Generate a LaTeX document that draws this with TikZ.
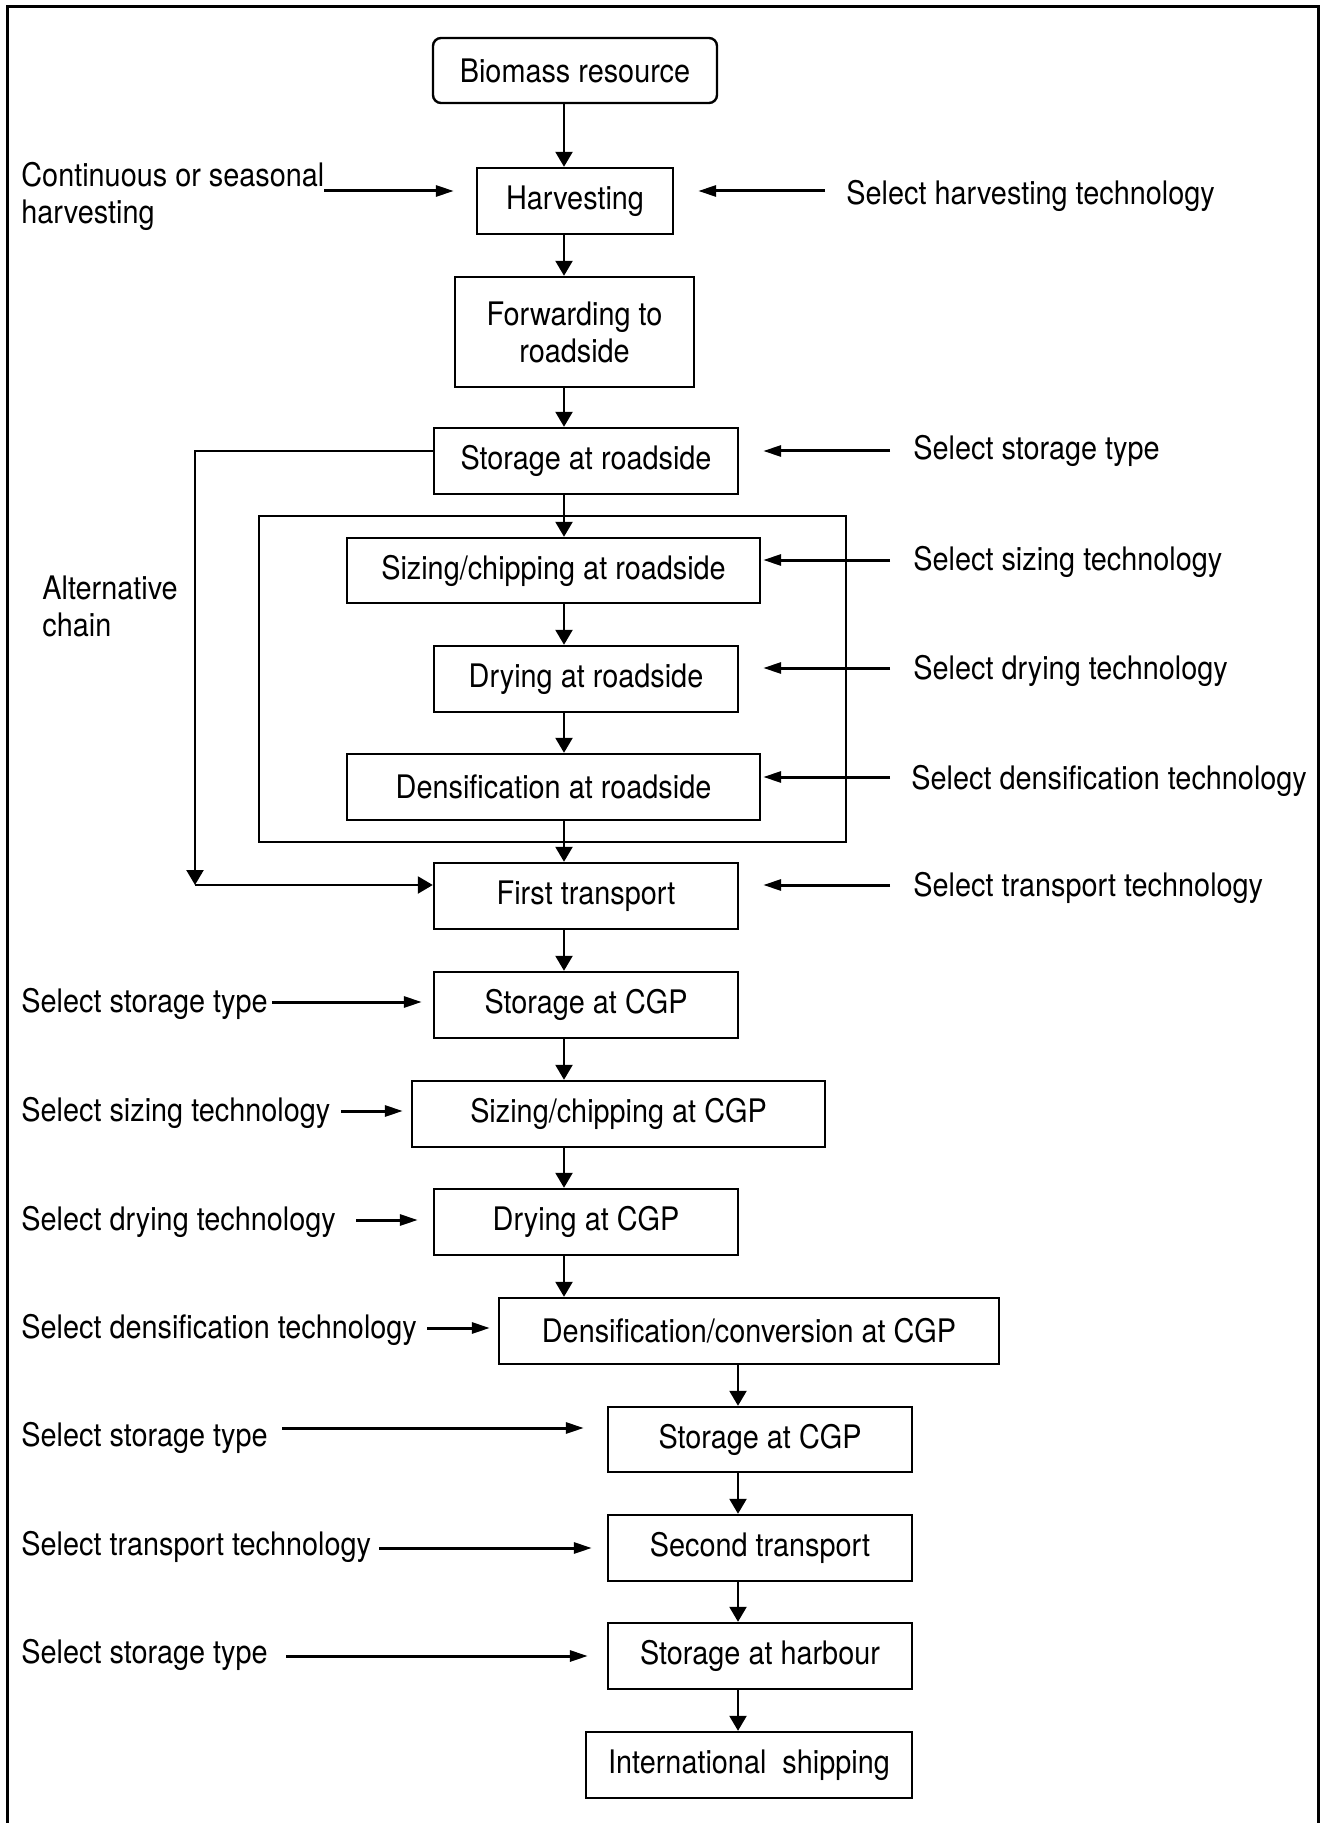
\documentclass[tikz,border=0pt]{standalone}
\usepackage{fontspec}
\setmainfont{TeX Gyre Heros}[FakeStretch=0.89]
\usetikzlibrary{arrows.meta,calc}
\begin{document}
\begin{tikzpicture}[x=0.5pt,y=-0.5pt,
  every node/.style={font=\fontsize{16.2pt}{18.5pt}\selectfont, inner sep=0pt},
  box/.style={draw, line width=1.2pt, minimum height=33pt},
  flow/.style={line width=1.15pt, -{Triangle[length=7.5pt,width=8.5pt]}},
  inarrow/.style={line width=1.5pt, -{Triangle[length=9pt,width=5.5pt]}},
  lab/.style={anchor=base west},
  mlab/.style={anchor=west, align=left},
]
\useasboundingbox (0,0) rectangle (1320,1823);
% frame
\draw[line width=1.5pt] (7.5,1823) -- (7.5,6.5) -- (1318.5,6.5) -- (1318.5,1823);

% container
\node[draw, line width=1.2pt, minimum width=293.5pt, minimum height=163pt] (cont) at (552.5,679) {};

% boxes
\node[box, rounded corners=4pt, minimum width=142pt, minimum height=32.5pt] (bio) at (575,70.5) {Biomass resource};
\node[box, minimum width=98pt, minimum height=33pt] (harv) at (575,201) {Harvesting};
\node[box, minimum width=119.5pt, minimum height=55pt, align=center] (fwd) at (574.5,332) {Forwarding to\\roadside};
\node[box, minimum width=152pt] (stroad) at (586,461) {Storage at roadside};
\node[box, minimum width=206.5pt, minimum height=32.5pt] (sizroad) at (553.5,570.5) {Sizing/chipping at roadside};
\node[box, minimum width=152pt] (dryroad) at (586,679) {Drying at roadside};
\node[box, minimum width=206.5pt] (denroad) at (553.5,787) {Densification at roadside};
\node[box, minimum width=152pt] (first) at (586,896) {First transport};
\node[box, minimum width=152pt] (stcgp) at (586,1005) {Storage at CGP};
\node[box, minimum width=206.5pt] (sizcgp) at (618.5,1114) {Sizing/chipping at CGP};
\node[box, minimum width=152pt] (drycgp) at (586,1222) {Drying at CGP};
\node[box, minimum width=250pt] (dencgp) at (749,1331) {Densification/conversion at CGP};
\node[box, minimum width=152pt, minimum height=32.5pt] (stcgp2) at (760,1439.5) {Storage at CGP};
\node[box, minimum width=152pt] (second) at (760,1548) {Second transport};
\node[box, minimum width=152pt] (harbour) at (760,1656) {Storage at harbour};
\node[box, minimum width=163pt] (intl) at (749,1765) {International\ \ shipping};

% flow arrows
\coordinate (xa) at (564,0);
\coordinate (xb) at (738,0);
\draw[flow] (bio.south -| xa) -- (harv.north -| xa);
\draw[flow] (harv.south -| xa) -- (fwd.north -| xa);
\draw[flow] (fwd.south -| xa) -- (stroad.north -| xa);
\draw[flow] (stroad.south -| xa) -- (sizroad.north -| xa);
\draw[flow] (sizroad.south -| xa) -- (dryroad.north -| xa);
\draw[flow] (dryroad.south -| xa) -- (denroad.north -| xa);
\draw[flow] (denroad.south -| xa) -- (first.north -| xa);
\draw[flow] (first.south -| xa) -- (stcgp.north -| xa);
\draw[flow] (stcgp.south -| xa) -- (sizcgp.north -| xa);
\draw[flow] (sizcgp.south -| xa) -- (drycgp.north -| xa);
\draw[flow] (drycgp.south -| xa) -- (dencgp.north -| xa);
\draw[flow] (dencgp.south -| xb) -- (stcgp2.north -| xb);
\draw[flow] (stcgp2.south -| xb) -- (second.north -| xb);
\draw[flow] (second.south -| xb) -- (harbour.north -| xb);
\draw[flow] (harbour.south -| xb) -- (intl.north -| xb);

% right input arrows
\coordinate (rt1) at (825,191);
\coordinate (rt2) at (890,451);
\coordinate (rt3) at (890,560);
\coordinate (rt4) at (890,668);
\coordinate (rt5) at (890,777);
\coordinate (rt6) at (890,885);
\draw[inarrow] (rt1) -- ($(rt1 -| harv.east)+(24,0)$);
\draw[inarrow] (rt2) -- ($(rt2 -| stroad.east)+(24,0)$);
\draw[inarrow] (rt3) -- ($(rt3 -| sizroad.east)+(2,0)$);
\draw[inarrow] (rt4) -- ($(rt4 -| dryroad.east)+(24,0)$);
\draw[inarrow] (rt5) -- ($(rt5 -| denroad.east)+(2,0)$);
\draw[inarrow] (rt6) -- ($(rt6 -| first.east)+(24,0)$);

% right labels
\node[lab] (r1) at (846,205) {Select harvesting technology};
\node[lab] (r2) at (913,460) {Select storage type};
\node[lab] (r3) at (913,570) {Select sizing technology};
\node[lab] (r4) at (913,679) {Select drying technology};
\node[lab] (r5) at (911,789) {Select densification technology};
\node[lab] (r6) at (913,896) {Select transport technology};

% left input arrows
\coordinate (lt1) at (324,191);
\coordinate (lt2) at (272,1002);
\coordinate (lt3) at (341,1111);
\coordinate (lt4) at (356,1220);
\coordinate (lt5) at (427,1328);
\coordinate (lt6) at (282,1428);
\coordinate (lt7) at (379,1548);
\coordinate (lt8) at (286,1656);
\draw[inarrow] (lt1) -- ($(lt1 -| harv.west)+(-22,0)$);
\draw[inarrow] (lt2) -- ($(lt2 -| stcgp.west)+(-11,0)$);
\draw[inarrow] (lt3) -- ($(lt3 -| sizcgp.west)+(-8,0)$);
\draw[inarrow] (lt4) -- ($(lt4 -| drycgp.west)+(-15,0)$);
\draw[inarrow] (lt5) -- ($(lt5 -| dencgp.west)+(-8,0)$);
\draw[inarrow] (lt6) -- ($(lt6 -| stcgp2.west)+(-23,0)$);
\draw[inarrow] (lt7) -- ($(lt7 -| second.west)+(-15,0)$);
\draw[inarrow] (lt8) -- ($(lt8 -| harbour.west)+(-19,0)$);

% left labels
\node[mlab] (l1) at (21,196) {Continuous or seasonal\\harvesting};
\node[mlab] (alt) at (42,606) {Alternative\\chain};
\node[lab] (l2) at (21,1012) {Select storage type};
\node[lab] (l3) at (21,1121) {Select sizing technology};
\node[lab] (l4) at (21,1230) {Select drying technology};
\node[lab] (l5) at (21,1338) {Select densification technology};
\node[lab] (l6) at (21,1446) {Select storage type};
\node[lab] (l7) at (21,1555) {Select transport technology};
\node[lab] (l8) at (21,1663) {Select storage type};

% alternative chain
\coordinate (altc) at (195,885);
\draw[flow] (stroad.west |- rt2) -| (altc);
\draw[flow] (altc) -- (first.west |- altc);
\end{tikzpicture}
\end{document}
